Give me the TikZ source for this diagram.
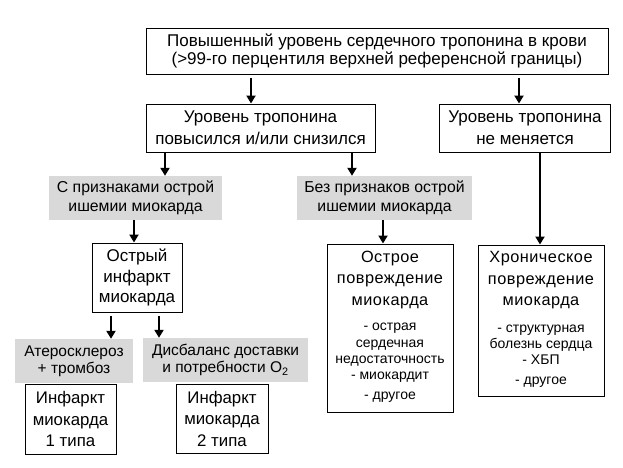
\documentclass[tikz,border=0pt]{standalone}
\usepackage{fontspec}
\setmainfont{Liberation Sans}
\newfontfamily\widefont[LetterSpace=3]{Liberation Sans}
\usetikzlibrary{arrows.meta}
\definecolor{greyfill}{HTML}{D9D9D9}
\tikzset{
  box/.style={draw=black, line width=1pt, fill=white, inner sep=0pt, align=center},
  greybox/.style={fill=greyfill, draw=none, inner sep=0pt, align=center},
  txt/.style={inner sep=0pt, align=center},
  arr/.style={line width=2.6pt, -{Triangle[length=8pt,width=9pt]}},
  fA/.style={font=\fontsize{17}{18}\selectfont},
  fB/.style={font=\fontsize{17}{22}\selectfont},
  fC/.style={font=\fontsize{15.8}{19}\selectfont},
  fD/.style={font=\fontsize{17}{20.5}\selectfont},
  fE/.style={font=\fontsize{15.5}{17}\selectfont},
  fF/.style={font=\fontsize{16.8}{21.5}\selectfont},
  fT/.style={font=\widefont\fontsize{16.3}{21.5}\selectfont},
  fL/.style={font=\fontsize{14}{16.3}\selectfont},
}
\begin{document}
\begin{tikzpicture}[x=1pt,y=-1pt]
\path[use as bounding box, fill=white] (0,0) rectangle (623,467);
% boxes
\node[box, fA, minimum width=462pt, minimum height=46pt] (top) at (377,51)
  {Повышенный уровень сердечного тропонина в крови\\(>99-го перцентиля верхней референсной границы)};
\node[box, fB, minimum width=229pt, minimum height=48pt] (chg) at (260.5,128)
  {Уровень тропонина\\повысился и/или снизился};
\node[box, fB, minimum width=171pt, minimum height=48pt] (nochg) at (525,128)
  {Уровень тропонина\\не меняется};
\node[greybox, fC, minimum width=173pt, minimum height=44pt] (isch) at (135.5,198)
  {С признаками острой\\ишемии миокарда};
\node[greybox, fC, minimum width=175pt, minimum height=44pt] (noisch) at (384.5,198)
  {Без признаков острой\\ишемии миокарда};
\node[box, fD, minimum width=90pt, minimum height=69pt] (ami) at (137,277.5)
  {Острый\\инфаркт\\миокарда};
\node[box, minimum width=126pt, minimum height=168pt] (acute) at (390,328) {};
\node[txt, fT] (acuteT) at (390,279.5) {Острое\\повреждение\\миокарда};
\node[txt, fL] (acuteL) at (390,363) {- острая\\сердечная\\недостаточность\\- миокардит\\[3.5pt]- другое};
\node[box, minimum width=126pt, minimum height=151pt] (chron) at (541,320.5) {};
\node[txt, fT] (chronT) at (541,280.5) {Хроническое\\повреждение\\миокарда};
\node[txt, fL] (chronL) at (541,356) {- структурная\\болезнь сердца\\- ХБП\\[3.5pt]- другое};
\node[greybox, fE, minimum width=118pt, minimum height=44pt] (ath) at (74,361)
  {Атеросклероз\\+ тромбоз};
\node[greybox, fE, minimum width=165pt, minimum height=44pt] (dis) at (225.5,360)
  {Дисбаланс доставки\\и потребности O\textsubscript{2}};
\node[box, fF, minimum width=91pt, minimum height=70pt] (t1) at (70.5,419)
  {Инфаркт\\миокарда\\1 типа};
\node[box, fF, minimum width=92pt, minimum height=69pt] (t2) at (222,418.5)
  {Инфаркт\\миокарда\\2 типа};
% arrow start points
\coordinate (s1) at (251,78);
\coordinate (s2) at (519,78);
\coordinate (s3) at (165,152);
\coordinate (s4) at (352,152);
\coordinate (s5) at (540,152);
\coordinate (s6) at (134,220);
\coordinate (s7) at (383,220);
\coordinate (s8) at (111,316);
\coordinate (s9) at (159,316);
% arrows
\draw[arr] (s1) -- (s1 |- chg.north);
\draw[arr] (s2) -- (s2 |- nochg.north);
\draw[arr] (s3) -- (s3 |- isch.north);
\draw[arr] (s4) -- (s4 |- noisch.north);
\draw[arr] (s5) -- (s5 |- chron.north);
\draw[arr] (s6) -- (s6 |- ami.north);
\draw[arr] (s7) -- (s7 |- acute.north);
\draw[arr] (s8) -- (s8 |- ath.north);
\draw[arr] (s9) -- (s9 |- dis.north);
\end{tikzpicture}
\end{document}
